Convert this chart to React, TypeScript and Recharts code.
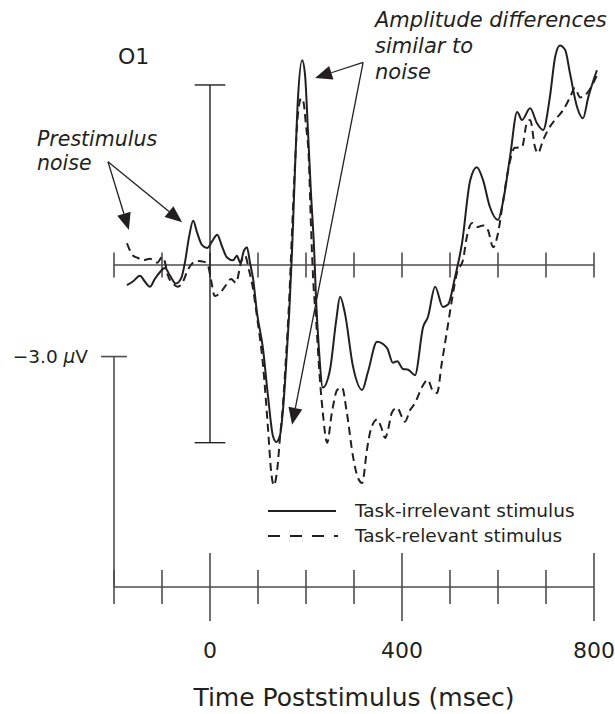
import React from 'react';
import { LineChart, Line, XAxis, YAxis, ReferenceLine, Legend } from 'recharts';

const W = 615;
const H = 714;
const FONT = '"DejaVu Sans", Verdana, sans-serif';
const INK = '#231f20';
const AXIS_INK = '#4d4d4d';

const seriesNames = ['Task-irrelevant stimulus', 'Task-relevant stimulus'];

// Task-irrelevant stimulus (solid): time in ms, amplitude in µV
const irrelevantTime = [
  -173, -160, -146, -135, -125, -115, -104, -94, -83, -71,
  -60, -52, -44, -35, -27, -17, -6, 4, 15, 25,
  35, 48, 56, 63, 71, 77, 83, 90, 98, 110,
  121, 131, 138, 146, 152, 158, 165, 171, 177, 183,
  192, 198, 204, 210, 217, 221, 227, 235, 250, 263,
  271, 281, 298, 317, 329, 348, 369, 381, 390, 402,
  413, 427, 444, 454, 469, 485, 496, 510, 525, 542,
  556, 569, 583, 600, 610, 625, 640, 650, 667, 681,
  694, 708, 719, 729, 740, 750, 765, 777, 788, 806,
];
const irrelevantAmp = [
  -0.26, -0.21, -0.14, -0.22, -0.28, -0.18, -0.09, -0.04, -0.14, -0.24,
  -0.17, 0.04, 0.35, 0.57, 0.42, 0.26, 0.22, 0.3, 0.39, 0.24,
  0.1, 0.06, 0.12, 0.03, 0.19, 0.23, 0.04, -0.19, -0.62, -1.06,
  -1.7, -2.2, -2.28, -2.19, -1.87, -1.35, -0.62, 0.19, 1.22, 2.12,
  2.64, 2.45, 1.74, 0.97, 0.19, -0.45, -1.09, -1.58, -1.35, -0.71,
  -0.41, -0.62, -1.31, -1.61, -1.38, -0.99, -1.07, -1.26, -1.24, -1.34,
  -1.35, -1.42, -0.8, -0.67, -0.28, -0.54, -0.51, -0.17, 0.28, 1.09,
  1.26, 1.09, 0.75, 0.58, 0.8, 1.39, 1.97, 1.87, 2.02, 1.83,
  1.74, 2.16, 2.68, 2.83, 2.77, 2.47, 2.03, 1.89, 2.16, 2.51,
];

// Task-relevant stimulus (dashed)
const relevantTime = [
  -173, -167, -160, -150, -140, -125, -110, -100, -94, -88,
  -77, -67, -56, -46, -35, -25, -12, -4, 2, 10,
  21, 31, 44, 54, 65, 73, 81, 90, 98, 110,
  121, 127, 133, 140, 146, 152, 158, 165, 171, 177,
  183, 190, 194, 200, 206, 210, 215, 221, 229, 235,
  244, 254, 265, 275, 285, 298, 308, 317, 327, 335,
  348, 356, 365, 371, 379, 390, 400, 406, 417, 427,
  442, 454, 463, 473, 483, 494, 504, 515, 527, 535,
  546, 558, 569, 579, 590, 600, 610, 621, 635, 650,
  660, 667, 677, 683, 694, 708, 723, 735, 750, 760,
  771, 785, 798, 808,
];
const relevantAmp = [
  0.28, 0.19, 0.12, 0.09, 0.06, 0.08, 0.03, 0.1, 0.04, -0.13,
  -0.24, -0.28, -0.21, -0.06, 0.03, 0.05, 0.04, -0.01, -0.19, -0.4,
  -0.36, -0.28, -0.18, -0.23, 0.04, 0.12, -0.06, -0.32, -0.67, -1.26,
  -2.12, -2.64, -2.84, -2.64, -2.21, -1.8, -1.22, -0.45, 0.45, 1.29,
  1.93, 2.15, 2.12, 1.8, 1.35, 0.58, -0.19, -0.71, -1.48, -1.9,
  -2.29, -1.9, -1.61, -1.58, -1.9, -2.47, -2.74, -2.81, -2.38, -2.12,
  -1.99, -2.08, -2.23, -2.12, -1.9, -1.84, -1.96, -2.02, -1.87, -1.78,
  -1.57, -1.48, -1.61, -1.65, -1.26, -0.84, -0.45, -0.09, 0.06, 0.36,
  0.54, 0.49, 0.51, 0.45, 0.23, 0.41, 0.8, 1.22, 1.51, 1.52,
  1.83, 1.87, 1.52, 1.44, 1.61, 1.78, 1.9, 1.99, 2.16, 2.28,
  2.16, 2.21, 2.34, 2.47,
];

const timeTicks = [-200, -100, 0, 100, 200, 300, 400, 500, 600, 700, 800];
const labeledTicks = [0, 400, 800];
const axisStart = -200;
const axisEnd = 800;

const X_DOMAIN: [number, number] = [-437.5, 843.75];
const Y_DOMAIN: [number, number] = [-4.15, 3.415];

// calibration bar at stimulus onset
const calibrationTime = 0;
const calibrationTop = 2.32;
const calibrationBottom = -2.29;
const calibrationCap = 32;

// −3.0 µV scale marker
const scaleBarTime = -200;
const scaleBarTop = -1.18;
const scaleBarCap = 27;

const baselineTickHalf = 0.16;

// annotation arrows: from (time, amp) to (time, amp)
const arrowFromTime = [-212.5, -212.5, 319, 319];
const arrowFromAmp = [1.33, 1.33, 2.61, 2.61];
const arrowToTime = [-169, -58, 219, 171];
const arrowToAmp = [0.45, 0.55, 2.41, -2.06];

const irrelevantData = irrelevantTime.map((t, i) => ({ t, v: irrelevantAmp[i] }));
const relevantData = relevantTime.map((t, i) => ({ t, v: relevantAmp[i] }));

const renderArrow = (p: any) => {
  const { x1, y1, x2, y2 } = p;
  const ang = Math.atan2(y2 - y1, x2 - x1);
  const L = 17;
  const Wd = 7;
  const bx = x2 - L * Math.cos(ang);
  const by = y2 - L * Math.sin(ang);
  const px = -Math.sin(ang) * Wd;
  const py = Math.cos(ang) * Wd;
  return (
    <g>
      <line x1={x1} y1={y1} x2={bx} y2={by} stroke={INK} strokeWidth={1.3} />
      <polygon points={`${x2},${y2} ${bx + px},${by + py} ${bx - px},${by - py}`} fill={INK} />
    </g>
  );
};

const renderBottomTick = (props: any) => {
  const { x, y, payload } = props;
  const major = labeledTicks.includes(payload.value);
  const half = major ? 34 : 17;
  return (
    <g>
      <line x1={x} x2={x} y1={y - half} y2={y + half} stroke={AXIS_INK} strokeWidth={1.6} />
      {major && (
        <text x={x} y={y + 71} textAnchor="middle" fontFamily={FONT} fontSize={22} fill={INK}>
          {payload.value}
        </text>
      )}
    </g>
  );
};

const renderTitle = (props: any) => {
  const vb = props && props.viewBox && props.viewBox.width ? props.viewBox : { x: 0, y: 587, width: W, height: 127 };
  const mid = (axisStart + axisEnd) / 2;
  const cx = vb.x + ((mid - X_DOMAIN[0]) / (X_DOMAIN[1] - X_DOMAIN[0])) * vb.width;
  return (
    <text x={cx} y={vb.y + vb.height - 8} textAnchor="middle" fontFamily={FONT} fontSize={25} fill={INK}>
      Time Poststimulus (msec)
    </text>
  );
};

const renderLegend = (props: any) => {
  const payload = props.payload || [];
  return (
    <div style={{ fontFamily: FONT, fontSize: 18.5, color: INK }}>
      {payload.map((entry: any, i: number) => {
        const dashed = entry.value === seriesNames[1];
        return (
          <div key={i} style={{ display: 'flex', alignItems: 'center', height: 25 }}>
            <svg width={87} height={6} style={{ display: 'block', flex: '0 0 87px' }}>
              <line
                x1={0}
                y1={3}
                x2={dashed ? 70 : 68}
                y2={3}
                stroke={INK}
                strokeWidth={2}
                strokeDasharray={dashed ? '12 10' : undefined}
              />
            </svg>
            <span style={{ lineHeight: '25px', whiteSpace: 'nowrap' }}>{entry.value}</span>
          </div>
        );
      })}
    </div>
  );
};

const seg = (a: number, b: number, c: number, d: number) => [
  { x: a, y: b },
  { x: c, y: d },
];

export default function App() {
  return (
    <div style={{ position: 'absolute', left: 0, top: 0, width: W, height: H, background: '#fff' }}>
      <LineChart width={W} height={H} margin={{ top: 0, right: 0, bottom: 0, left: 0 }}>
        <XAxis
          type="number"
          dataKey="t"
          domain={X_DOMAIN}
          allowDataOverflow
          ticks={timeTicks}
          interval={0}
          tickSize={0}
          tickMargin={0}
          axisLine={false}
          tickLine={false}
          tick={renderBottomTick}
          height={127}
          label={renderTitle}
        />
        <YAxis type="number" dataKey="v" domain={Y_DOMAIN} allowDataOverflow hide />

        {/* baseline axis with ticks */}
        <ReferenceLine segment={seg(axisStart, 0, axisEnd, 0)} stroke={AXIS_INK} strokeWidth={1.6} />
        {timeTicks.map((t) => (
          <ReferenceLine
            key={`bt-${t}`}
            segment={seg(t, baselineTickHalf, t, -baselineTickHalf)}
            stroke={AXIS_INK}
            strokeWidth={1.6}
          />
        ))}

        {/* bottom time axis line */}
        <ReferenceLine
          segment={seg(axisStart, Y_DOMAIN[0], axisEnd, Y_DOMAIN[0])}
          stroke={AXIS_INK}
          strokeWidth={1.6}
          ifOverflow="visible"
        />

        {/* −3.0 µV scale bar */}
        <ReferenceLine
          segment={seg(scaleBarTime, scaleBarTop, scaleBarTime, Y_DOMAIN[0])}
          stroke={AXIS_INK}
          strokeWidth={1.6}
          ifOverflow="visible"
        />
        <ReferenceLine
          segment={seg(scaleBarTime - scaleBarCap, scaleBarTop, scaleBarTime + scaleBarCap, scaleBarTop)}
          stroke={AXIS_INK}
          strokeWidth={1.6}
        />

        {/* calibration bar at stimulus onset */}
        <ReferenceLine
          segment={seg(calibrationTime, calibrationTop, calibrationTime, calibrationBottom)}
          stroke={INK}
          strokeWidth={1.4}
        />
        <ReferenceLine
          segment={seg(calibrationTime - calibrationCap, calibrationTop, calibrationTime + calibrationCap, calibrationTop)}
          stroke={INK}
          strokeWidth={1.4}
        />
        <ReferenceLine
          segment={seg(calibrationTime - calibrationCap, calibrationBottom, calibrationTime + calibrationCap, calibrationBottom)}
          stroke={INK}
          strokeWidth={1.4}
        />

        <Line
          data={irrelevantData}
          dataKey="v"
          name={seriesNames[0]}
          type="monotone"
          stroke={INK}
          strokeWidth={2}
          dot={false}
          activeDot={false}
          isAnimationActive={false}
        />
        <Line
          data={relevantData}
          dataKey="v"
          name={seriesNames[1]}
          type="monotone"
          stroke={INK}
          strokeWidth={2}
          strokeDasharray="8 5"
          dot={false}
          activeDot={false}
          isAnimationActive={false}
        />

        {/* annotation arrows */}
        {arrowFromTime.map((ft, i) => (
          <ReferenceLine
            key={`arrow-${i}`}
            segment={seg(ft, arrowFromAmp[i], arrowToTime[i], arrowToAmp[i])}
            shape={renderArrow}
            ifOverflow="visible"
          />
        ))}

        <Legend
          layout="vertical"
          align="center"
          verticalAlign="middle"
          content={renderLegend}
          wrapperStyle={{ left: 268, top: 498, width: 330, right: 'auto', bottom: 'auto' }}
        />
      </LineChart>

      <svg
        width={W}
        height={H}
        style={{ position: 'absolute', left: 0, top: 0, pointerEvents: 'none' }}
      >
        <text x={118} y={64} fontFamily={FONT} fontSize={22} fill={INK}>
          O1
        </text>
        <text fontFamily={FONT} fontStyle="italic" fontSize={20.5} fill={INK}>
          <tspan x={37} y={146}>Prestimulus</tspan>
          <tspan x={37} y={170}>noise</tspan>
        </text>
        <text fontFamily={FONT} fontStyle="italic" fontSize={21} fill={INK}>
          <tspan x={375} y={27}>Amplitude differences</tspan>
          <tspan x={375} y={53}>similar to</tspan>
          <tspan x={375} y={79}>noise</tspan>
        </text>
        <text x={88} y={363} textAnchor="end" fontFamily={FONT} fontSize={18.5} fill={INK}>
          −3.0 <tspan fontStyle="italic">μ</tspan>V
        </text>
      </svg>
    </div>
  );
}
